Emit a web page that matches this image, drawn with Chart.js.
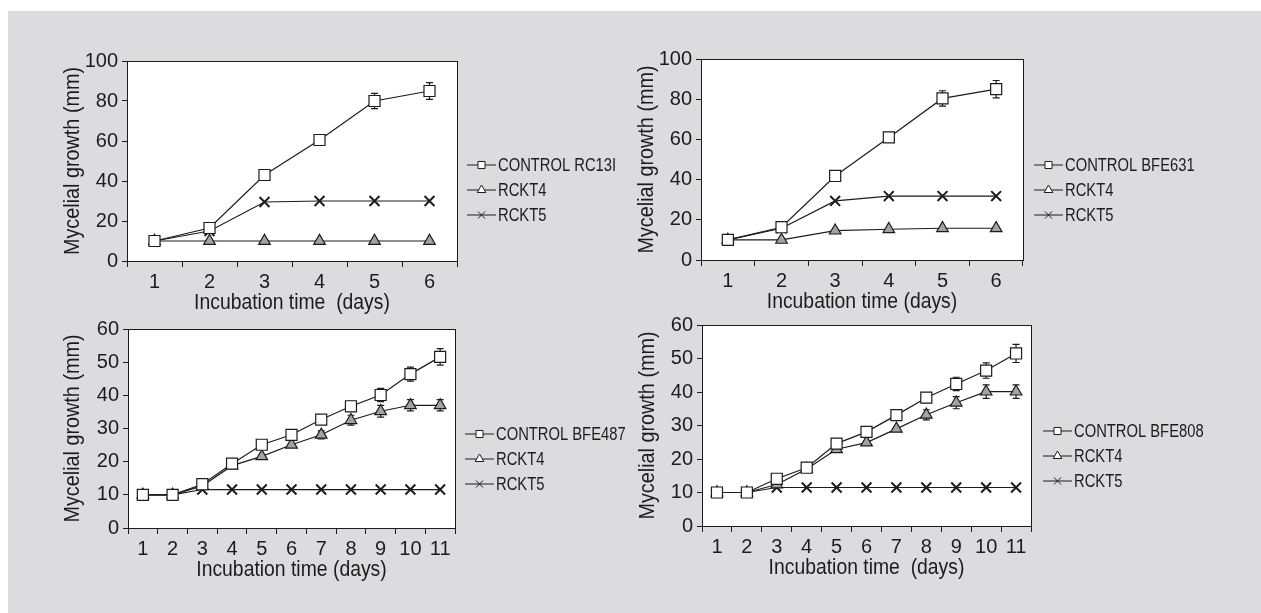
<!DOCTYPE html>
<html>
<head>
<meta charset="utf-8">
<script src="https://cdn.jsdelivr.net/npm/chart.js@4.4.0/dist/chart.umd.min.js"></script>
<style>
  html, body { margin: 0; padding: 0; background: #fff; }
  #bg { position: absolute; left: 8px; top: 11px; width: 1253px; height: 602px; background: #dcdcde; }
  canvas { position: absolute; }
</style>
</head>
<body>
<div id="bg"></div>
<canvas id="c1"></canvas>
<canvas id="c2"></canvas>
<canvas id="c3"></canvas>
<canvas id="c4"></canvas>
<script>
const days6 = ["1", "2", "3", "4", "5", "6"];
const days11 = ["1", "2", "3", "4", "5", "6", "7", "8", "9", "10", "11"];

// RC13I
const rc13iControl = [10, 16.5, 43, 60.5, 80, 85];
const rc13iControlErr = [0, 0, 0, 1.5, 3.8, 4.2];
const rc13iRckt4 = [10, 10, 10, 10, 10, 10];
const rc13iRckt5 = [10, 15, 29.5, 30, 30, 30];

// BFE631
const bfe631Control = [10, 16.3, 41.8, 61, 80.4, 85];
const bfe631ControlErr = [0, 0, 0, 2, 3.8, 4.3];
const bfe631Rckt4 = [10, 10, 14.6, 15.3, 15.8, 15.8];
const bfe631Rckt5 = [10, 15.8, 29.4, 31.8, 31.8, 31.8];

// BFE487
const bfe487Control = [10, 10, 13.2, 19.4, 25.1, 28.1, 32.7, 36.7, 40.1, 46.4, 51.6];
const bfe487ControlErr = [0, 0, 0, 0, 0, 0, 0, 1.5, 2, 2.1, 2.5];
const bfe487Rckt4 = [10, 10, 12.7, 18.8, 21.6, 25.1, 28.1, 32.5, 35.2, 37, 37];
const bfe487Rckt4Err = [0, 0, 0, 0, 0, 0, 1.2, 1.5, 1.8, 1.7, 1.7];
const bfe487Rckt5 = [10, 10, 11.6, 11.6, 11.6, 11.6, 11.6, 11.6, 11.6, 11.6, 11.6];

// BFE808
const bfe808Control = [10, 10, 14.1, 17.4, 24.6, 28.1, 33.1, 38.3, 42.4, 46.4, 51.5];
const bfe808ControlErr = [0, 0, 0, 0, 0, 0, 1.5, 1.5, 2, 2.3, 2.7];
const bfe808Rckt4 = [10, 10, 12.4, 17, 22.9, 24.9, 29, 33.2, 36.8, 40.1, 40.1];
const bfe808Rckt4Err = [0, 0, 0, 0, 0, 0, 0, 1.5, 1.8, 2, 2];
const bfe808Rckt5 = [10, 10, 11.5, 11.5, 11.5, 11.5, 11.5, 11.5, 11.5, 11.5, 11.5];

const INK = "#1c1c1c";
const FAMILY = "'Liberation Sans', Arial, sans-serif";
const TICK_FONT = { family: FAMILY, size: 20 };

// white plot area + box frame
const frame = {
    id: "frame",
    beforeDraw(chart) {
        const a = chart.chartArea;
        chart.ctx.save();
        chart.ctx.fillStyle = "#fff";
        chart.ctx.fillRect(a.left, a.top, a.right - a.left, a.bottom - a.top);
        chart.ctx.restore();
    },
    afterDraw(chart) {
        const a = chart.chartArea;
        const ctx = chart.ctx;
        ctx.save();
        ctx.strokeStyle = INK;
        ctx.lineWidth = 1;
        ctx.strokeRect(Math.round(a.left) + 0.5, Math.round(a.top) + 0.5, Math.round(a.right - a.left), Math.round(a.bottom - a.top));
        ctx.restore();
    }
};

// error bars read from dataset.errors
const errorBars = {
    id: "errorBars",
    beforeDatasetsDraw(chart) {
        const ctx = chart.ctx;
        const xs = chart.scales.x, ys = chart.scales.y;
        ctx.save();
        ctx.strokeStyle = INK;
        ctx.lineWidth = 1.2;
        chart.data.datasets.forEach(ds => {
            if (!ds.errors) return;
            ds.data.forEach((v, i) => {
                const e = ds.errors[i];
                if (!e) return;
                const x = xs.getPixelForValue(i);
                const y1 = ys.getPixelForValue(v + e);
                const y2 = ys.getPixelForValue(v - e);
                ctx.beginPath();
                ctx.moveTo(x, y1); ctx.lineTo(x, y2);
                ctx.moveTo(x - 3.5, y1); ctx.lineTo(x + 3.5, y1);
                ctx.moveTo(x - 3.5, y2); ctx.lineTo(x + 3.5, y2);
                ctx.stroke();
            });
        });
        ctx.restore();
    }
};

// axis titles in a condensed look (no narrow face installed, so squeeze horizontally)
const axisTitles = {
    id: "axisTitles",
    afterDraw(chart, args, o) {
        const ctx = chart.ctx;
        const a = chart.chartArea;
        ctx.save();
        ctx.fillStyle = INK;
        ctx.font = "22px " + FAMILY;
        ctx.textAlign = "center";
        ctx.textBaseline = "middle";
        ctx.save();
        ctx.translate((a.left + a.right) / 2, a.bottom + 42);
        ctx.scale(0.88, 1);
        ctx.fillText(o.x, 0, 0);
        ctx.restore();
        ctx.save();
        ctx.translate(o.yX, (a.top + a.bottom) / 2);
        ctx.rotate(-Math.PI / 2);
        ctx.scale(0.9, 1);
        ctx.fillText(o.y, 0, 0);
        ctx.restore();
        ctx.restore();
    }
};

// legend to the right of the plot: short line with marker, then label
const sideLegend = {
    id: "sideLegend",
    afterDraw(chart, args, opts) {
        const ctx = chart.ctx;
        const a = chart.chartArea;
        ctx.save();
        chart.data.datasets.forEach((ds, i) => {
            const y = a.top + opts.top + i * opts.gap;
            const x0 = a.right + opts.left;
            ctx.strokeStyle = INK;
            ctx.lineWidth = 1;
            ctx.beginPath();
            ctx.moveTo(x0, y); ctx.lineTo(x0 + 29, y);
            ctx.stroke();
            ctx.fillStyle = "#fff";
            Chart.helpers.drawPoint(ctx, { pointStyle: ds.pointStyle, radius: 5, borderWidth: 1, rotation: 0 }, x0 + 14.5, y);
            ctx.fillStyle = INK;
            ctx.font = "18px " + FAMILY;
            ctx.textBaseline = "middle";
            ctx.save();
            ctx.translate(x0 + 31, y + 1);
            ctx.scale(0.82, 1);
            ctx.fillText(ds.label, 0, 0);
            ctx.restore();
        });
        ctx.restore();
    }
};

function makeSeries(label, data, style, errors) {
    const s = {
        label: label,
        data: data,
        borderColor: INK,
        borderWidth: 1.2,
        pointBorderColor: INK,
        pointBorderWidth: 1.2,
        pointStyle: style,
        fill: false,
        tension: 0
    };
    if (style === "rect") { s.pointBackgroundColor = "#fff"; s.pointRadius = 7.8; }
    if (style === "triangle") { s.pointBackgroundColor = "#a3a3a3"; s.pointRadius = 6.7; }
    if (style === "crossRot") { s.pointBackgroundColor = INK; s.pointRadius = 7; s.pointBorderWidth = 2; }
    if (errors) s.errors = errors;
    return s;
}

function panel(id, p) {
    const canvas = document.getElementById(id);
    const top = p.area.t - 20;
    const xH = 62;
    const height = 20 + (p.area.b - p.area.t) + xH;
    const yW = p.area.l - p.left;
    canvas.width = p.width;
    canvas.height = height;
    canvas.style.left = p.left + "px";
    canvas.style.top = top + "px";
    canvas.style.width = p.width + "px";
    canvas.style.height = height + "px";

    return new Chart(canvas.getContext("2d"), {
        type: "line",
        data: { labels: p.labels, datasets: p.datasets },
        options: {
            responsive: false,
            animation: false,
            devicePixelRatio: 1,
            layout: { padding: { left: 0, top: 20, right: p.left + p.width - p.area.r, bottom: 0 } },
            plugins: {
                legend: { display: false },
                tooltip: { enabled: false },
                sideLegend: { left: p.legendLeft, top: p.legendTop, gap: 25 },
                axisTitles: { x: p.xTitle, y: "Mycelial growth (mm)", yX: p.titleX - p.left }
            },
            scales: {
                x: {
                    type: "category",
                    offset: true,
                    grid: { offset: true, drawOnChartArea: false, drawTicks: true, tickLength: 6, color: INK },
                    border: { color: INK, width: 1 },
                    ticks: { font: TICK_FONT, color: INK, padding: 3, maxRotation: 0, autoSkip: false },
                    afterFit: s => { s.height = xH; }
                },
                y: {
                    min: 0,
                    max: p.yMax,
                    grid: { drawOnChartArea: false, drawTicks: true, tickLength: 5, color: INK },
                    border: { color: INK, width: 1 },
                    ticks: {
                        stepSize: 10,
                        font: TICK_FONT,
                        color: INK,
                        padding: 4,
                        callback: v => (v % p.labelEvery === 0 ? v : "")
                    },
                    afterFit: s => { s.width = yW; }
                }
            }
        },
        plugins: [frame, errorBars, axisTitles, sideLegend]
    });
}

panel("c1", {
    left: 40, width: 600,
    area: { l: 127, t: 61, r: 457, b: 261 },
    yMax: 100, labelEvery: 20, titleX: 73,
    labels: days6,
    xTitle: "Incubation time  (days)",
    legendLeft: 10, legendTop: 104,
    datasets: [
        makeSeries("CONTROL RC13I", rc13iControl, "rect", rc13iControlErr),
        makeSeries("RCKT4", rc13iRckt4, "triangle"),
        makeSeries("RCKT5", rc13iRckt5, "crossRot")
    ]
});

panel("c2", {
    left: 630, width: 620,
    area: { l: 701, t: 59, r: 1023, b: 260 },
    yMax: 100, labelEvery: 20, titleX: 647,
    labels: days6,
    xTitle: "Incubation time (days)",
    legendLeft: 11, legendTop: 106,
    datasets: [
        makeSeries("CONTROL BFE631", bfe631Control, "rect", bfe631ControlErr),
        makeSeries("RCKT4", bfe631Rckt4, "triangle"),
        makeSeries("RCKT5", bfe631Rckt5, "crossRot")
    ]
});

panel("c3", {
    left: 40, width: 600,
    area: { l: 128, t: 329, r: 455, b: 528 },
    yMax: 60, labelEvery: 10, titleX: 73,
    labels: days11,
    xTitle: "Incubation time (days)",
    legendLeft: 10, legendTop: 105,
    datasets: [
        makeSeries("CONTROL BFE487", bfe487Control, "rect", bfe487ControlErr),
        makeSeries("RCKT4", bfe487Rckt4, "triangle", bfe487Rckt4Err),
        makeSeries("RCKT5", bfe487Rckt5, "crossRot")
    ]
});

panel("c4", {
    left: 630, width: 620,
    area: { l: 702, t: 325, r: 1031, b: 526 },
    yMax: 60, labelEvery: 10, titleX: 648,
    labels: days11,
    xTitle: "Incubation time  (days)",
    legendLeft: 12, legendTop: 106,
    datasets: [
        makeSeries("CONTROL BFE808", bfe808Control, "rect", bfe808ControlErr),
        makeSeries("RCKT4", bfe808Rckt4, "triangle", bfe808Rckt4Err),
        makeSeries("RCKT5", bfe808Rckt5, "crossRot")
    ]
});
</script>
</body>
</html>
